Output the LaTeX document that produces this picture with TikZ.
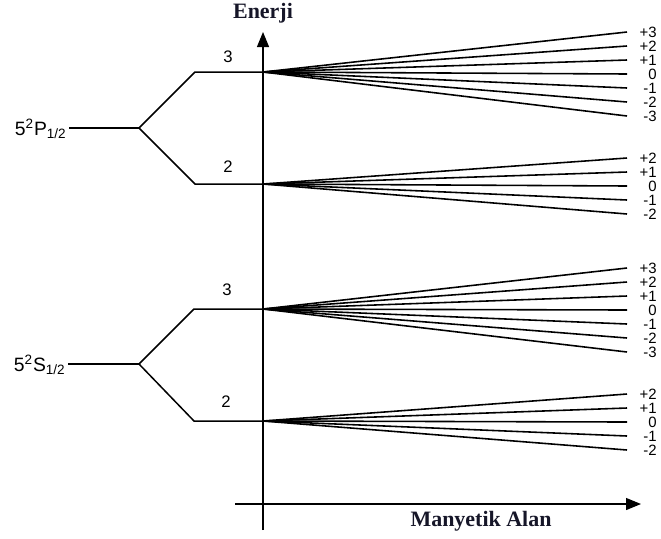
\documentclass[tikz,border=0pt]{standalone}
\usepackage{fontspec}
\setmainfont{Liberation Sans}
\newfontfamily\titlefont{Liberation Serif}
\usepackage{tikz}
\usetikzlibrary{arrows.meta}
\definecolor{titleink}{RGB}{22,22,40}

\tikzset{
	level/.style={line width=0.85pt},
	zline/.style={line width=0.9pt},
	axisline/.style={line width=0.7pt},
	axistip/.style={-{Triangle[length=0.3cm,width=0.24cm]}},
	flabel/.style={font=\fontsize{9.5}{9.5}\selectfont, inner sep=0pt},
	mlabel/.style={font=\fontsize{8.5}{8.5}\selectfont, inner sep=0pt, anchor=east},
	termlabel/.style={font=\fontsize{11}{11}\selectfont, inner sep=0pt, anchor=east},
	axistitle/.style={font=\titlefont\bfseries\fontsize{12.5}{12.5}\selectfont, text=titleink, inner sep=0pt}
}

\begin{document}
\begin{tikzpicture}[x=0.02cm, y=-0.02cm]
			\useasboundingbox (0, 0) rectangle (661, 538);
			% Axes:
			\coordinate (Ybot) at (263, 530);
			\coordinate (Ytop) at (263, 32);
			\coordinate (Xleft) at (235, 504);
			\coordinate (Xright) at (641, 504);
			\draw[axisline, axistip] (Ybot) -- (Ytop);
			\draw[axisline, axistip] (Xleft) -- (Xright);
			\node[axistitle](E) at (263, 13){Enerji};
			\node[axistitle](B) at (481, 521){Manyetik Alan};
			% Fine structure levels:
			\node[termlabel](P) at (67, 129){5\textsuperscript{2}P\textsubscript{1/2}};
			\node[termlabel](S) at (66, 365){5\textsuperscript{2}S\textsubscript{1/2}};
			\coordinate (Psplit) at (139, 128);
			\coordinate (Ssplit) at (139, 364);
			\draw[level] (69, 128) -- (Psplit);
			\draw[level] (68, 364) -- (Ssplit);
			% Hyperfine levels:
			\coordinate (P3a) at (195, 72);
			\coordinate (P2a) at (195, 184);
			\coordinate (S3a) at (194, 309);
			\coordinate (S2a) at (194, 421);
			\coordinate (P3) at (263, 72);
			\coordinate (P2) at (263, 184);
			\coordinate (S3) at (263, 309);
			\coordinate (S2) at (263, 421);
			\draw[level] (P3) -- (P3a) -- (Psplit) -- (P2a) -- (P2);
			\draw[level] (S3) -- (S3a) -- (Ssplit) -- (S2a) -- (S2);
			\node[flabel](N1) at (228, 57){3};
			\node[flabel](N2) at (228, 167){2};
			\node[flabel](N3) at (227, 290){3};
			\node[flabel](N4) at (226, 402){2};
			% Zeeman sublevels:
			\foreach \m/\t in {3/+3, 2/+2, 1/+1, 0/0, -1/-1, -2/-2, -3/-3}{
				\draw[zline] (P3) -- (627, {74-14*\m});
				\node[mlabel] at (657, {74-14*\m}){\t};
				\draw[zline] (S3) -- (627, {310-14*\m});
				\node[mlabel] at (657, {310-14*\m}){\t};
			}
			\foreach \m/\t in {2/+2, 1/+1, 0/0, -1/-1, -2/-2}{
				\draw[zline] (P2) -- (627, {186-14*\m});
				\node[mlabel] at (657, {186-14*\m}){\t};
				\draw[zline] (S2) -- (627, {422-14*\m});
				\node[mlabel] at (657, {422-14*\m}){\t};
			}
		\end{tikzpicture}
\end{document}
